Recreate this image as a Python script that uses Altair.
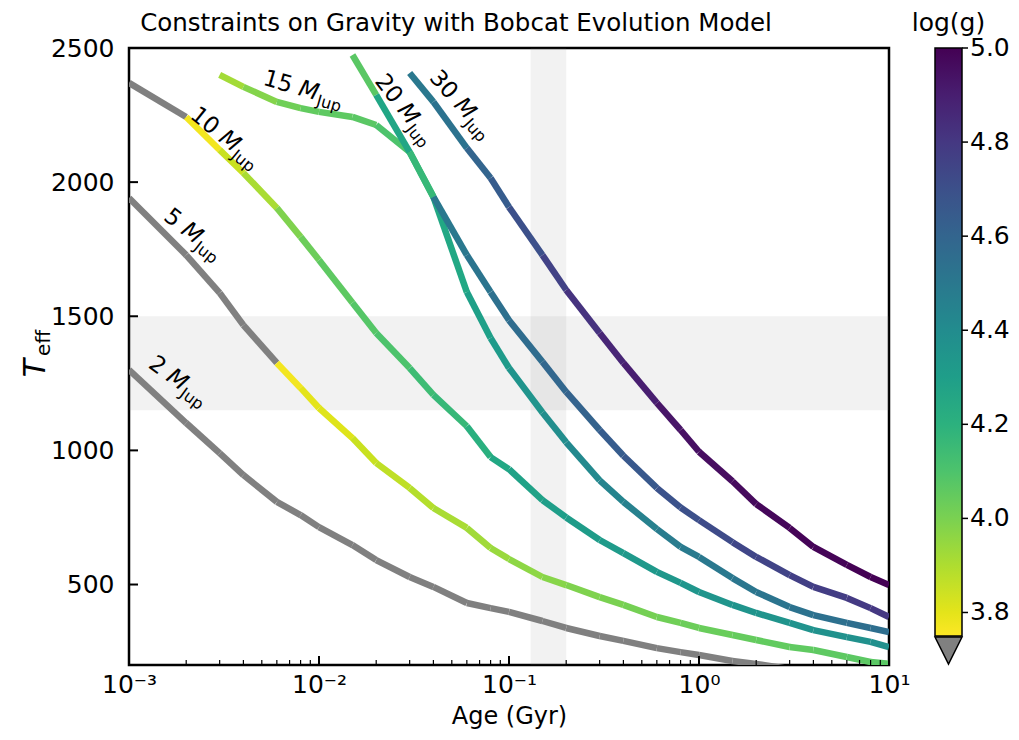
import altair as alt
import pandas as pd

FONT = "DejaVu Sans"

# ---- evolution tracks (Age in Gyr, Teff in K, log g) ----
AGE_2 = [0.001, 0.002, 0.003, 0.004, 0.006, 0.008, 0.01, 0.015, 0.02, 0.03, 0.04, 0.06, 0.08, 0.1,
         0.15, 0.2, 0.3, 0.4, 0.6, 0.8, 1.0, 1.5, 2.0, 3.0]
TEFF_2 = [1300, 1102, 990, 908, 808, 759, 714, 647, 591, 528, 491, 431, 412, 398,
          364, 338, 308, 290, 263, 248, 237, 215, 204, 185]
LOGG_2 = [3.35, 3.42, 3.46, 3.49, 3.52, 3.54, 3.55, 3.57, 3.58, 3.60, 3.61, 3.62, 3.63, 3.64,
          3.65, 3.66, 3.67, 3.68, 3.69, 3.69, 3.70, 3.70, 3.71, 3.71]

AGE_5 = [0.001, 0.002, 0.003, 0.004, 0.006, 0.008, 0.01, 0.015, 0.02, 0.03, 0.04, 0.06, 0.08, 0.1,
         0.15, 0.2, 0.3, 0.4, 0.6, 0.8, 1.0, 1.5, 2.0, 3.0, 4.0, 6.0, 8.0, 10.0]
TEFF_5 = [1941, 1728, 1587, 1467, 1326, 1233, 1158, 1046, 953, 860, 785, 711, 636, 595,
          528, 498, 453, 424, 379, 357, 338, 312, 293, 267, 256, 230, 211, 205]
LOGG_5 = [3.55, 3.62, 3.67, 3.71, 3.77, 3.80, 3.81, 3.85, 3.87, 3.89, 3.91, 3.925, 3.94, 3.96,
          3.975, 3.99, 4.00, 4.01, 4.02, 4.03, 4.035, 4.045, 4.05, 4.055, 4.06, 4.065, 4.07, 4.07]

AGE_10 = [0.001, 0.002, 0.003, 0.004, 0.006, 0.008, 0.01, 0.015, 0.02, 0.03, 0.04, 0.06, 0.08, 0.1,
          0.15, 0.2, 0.3, 0.4, 0.6, 0.8, 1.0, 1.5, 2.0, 3.0, 4.0, 6.0, 8.0, 10.0]
TEFF_10 = [2370, 2243, 2120, 2034, 1904, 1796, 1710, 1550, 1438, 1307, 1207, 1090, 975, 930,
           815, 750, 666, 617, 547, 506, 472, 424, 394, 357, 330, 304, 286, 267]
LOGG_10 = [3.70, 3.77, 3.85, 3.91, 3.99, 4.03, 4.06, 4.08, 4.10, 4.14, 4.16, 4.21, 4.25, 4.28,
           4.30, 4.31, 4.32, 4.33, 4.34, 4.345, 4.35, 4.355, 4.36, 4.365, 4.37, 4.375, 4.38, 4.38]

AGE_15 = [0.003, 0.004, 0.006, 0.008, 0.01, 0.015, 0.02, 0.03, 0.04, 0.06, 0.08, 0.1,
          0.15, 0.2, 0.3, 0.4, 0.6, 0.8, 1.0, 1.5, 2.0, 3.0, 4.0, 6.0, 8.0, 10.0]
TEFF_15 = [2400, 2355, 2299, 2276, 2262, 2243, 2213, 2112, 1945, 1590, 1419, 1307,
           1141, 1030, 888, 808, 707, 640, 603, 524, 472, 416, 386, 357, 338, 323]
LOGG_15 = [3.92, 3.98, 4.02, 4.05, 4.06, 4.07, 4.10, 4.15, 4.25, 4.29, 4.32, 4.36,
           4.39, 4.41, 4.44, 4.46, 4.48, 4.49, 4.50, 4.51, 4.52, 4.53, 4.54, 4.55, 4.55, 4.56]

AGE_20 = [0.015, 0.02, 0.03, 0.04, 0.06, 0.08, 0.1, 0.15, 0.2, 0.3, 0.4, 0.6, 0.8, 1.0,
          1.5, 2.0, 3.0, 4.0, 6.0, 8.0, 10.0]
TEFF_20 = [2474, 2325, 2112, 1945, 1728, 1590, 1485, 1330, 1218, 1076, 980, 860, 787, 740,
           658, 603, 535, 491, 450, 412, 379]
LOGG_20 = [4.07, 4.26, 4.16, 4.50, 4.52, 4.54, 4.56, 4.59, 4.61, 4.64, 4.66, 4.69, 4.70, 4.72,
           4.74, 4.75, 4.77, 4.78, 4.79, 4.80, 4.80]

AGE_30 = [0.03, 0.04, 0.06, 0.08, 0.1, 0.15, 0.2, 0.3, 0.4, 0.6, 0.8, 1.0,
          1.5, 2.0, 3.0, 4.0, 6.0, 8.0, 10.0]
TEFF_30 = [2407, 2299, 2127, 2015, 1907, 1728, 1598, 1438, 1326, 1177, 1076, 995,
           885, 800, 711, 640, 573, 528, 498]
LOGG_30 = [4.50, 4.53, 4.60, 4.64, 4.70, 4.76, 4.82, 4.87, 4.90, 4.93, 4.95, 4.96,
           4.97, 4.98, 4.99, 4.99, 5.00, 5.00, 5.00]

TRACKS = [("2", AGE_2, TEFF_2, LOGG_2), ("5", AGE_5, TEFF_5, LOGG_5),
          ("10", AGE_10, TEFF_10, LOGG_10), ("15", AGE_15, TEFF_15, LOGG_15),
          ("20", AGE_20, TEFF_20, LOGG_20), ("30", AGE_30, TEFF_30, LOGG_30)]

# ---- track labels ----
LABEL_MASS = ["2", "5", "10", "15", "20", "30"]
LABEL_AGE = [0.001625, 0.00195, 0.00308, 0.00786, 0.02735, 0.05395]
LABEL_TEFF = [1285, 1833, 2176, 2351, 2284, 2302]
LABEL_ANGLE = [36, 38, 39, 16, 52, 48]

# ---- shaded constraint bands ----
AGE_BAND = [0.13, 0.2]
TEFF_BAND = [1150, 1500]

# ---- axes ----
X_MAJOR = [0.001, 0.01, 0.1, 1, 10]
X_LABELS = ["10⁻³", "10⁻²", "10⁻¹", "10⁰", "10¹"]
X_MINOR = [m * d for d in [0.001, 0.01, 0.1, 1] for m in range(2, 10)]
Y_TICKS = [500, 1000, 1500, 2000, 2500]
CBAR_TICKS = [3.8, 4.0, 4.2, 4.4, 4.6, 4.8, 5.0]
CBAR_DOMAIN = [3.75, 5.0]

TITLE = "Constraints on Gravity with Bobcat Evolution Model"

rows = []
for name, ages, teffs, loggs in TRACKS:
    for i in range(len(ages) - 1):
        for j in (i, i + 1):
            rows.append({"track": name, "seg": f"{name}-{i}", "age": ages[j],
                         "T": teffs[j], "logg": loggs[i]})
seg_df = pd.DataFrame(rows)
lab_df = pd.DataFrame({"mass": LABEL_MASS, "age": LABEL_AGE, "T": LABEL_TEFF, "angle": LABEL_ANGLE})

xscale = alt.Scale(type="log", domain=[0.001, 10], nice=False)
yscale = alt.Scale(domain=[200, 2500], nice=False, zero=False)
cbar_scale = alt.Scale(domain=CBAR_DOMAIN, range=[588, 0], nice=False, zero=False)

label_expr = " : ".join(
    f"datum.value < {v * 3:g} ? '{t}'" for v, t in zip(X_MAJOR[:-1], X_LABELS[:-1])
) + f" : '{X_LABELS[-1]}'"

x_axis = alt.Axis(values=X_MAJOR, labelExpr=label_expr, ticks=False, tickSize=0, domain=False,
                  grid=False, labelFontSize=25, labelFont=FONT, labelColor="black",
                  labelPadding=7, labelFlush=False, labelOverlap=False,
                  title="Age (Gyr)", titleFontSize=24, titleFont=FONT,
                  titleFontWeight="normal", titleColor="black", titlePadding=7)
y_axis = alt.Axis(values=Y_TICKS, format="d", ticks=False, tickSize=0, domain=False, grid=False,
                  labelFontSize=25, labelFont=FONT, labelColor="black", labelPadding=15,
                  title="")

vband = alt.Chart(pd.DataFrame({"lo": [AGE_BAND[0]], "hi": [AGE_BAND[1]]})).mark_rect(
    color="gray", opacity=0.1).encode(
    x=alt.X("lo:Q", scale=xscale, axis=x_axis), x2="hi:Q")
hband = alt.Chart(pd.DataFrame({"lo": [TEFF_BAND[0]], "hi": [TEFF_BAND[1]]})).mark_rect(
    color="gray", opacity=0.1).encode(
    y=alt.Y("lo:Q", scale=yscale, axis=None), y2="hi:Q")

lines = alt.Chart(seg_df).mark_line(strokeWidth=6.5, strokeCap="butt", clip=True).encode(
    x=alt.X("age:Q", scale=xscale, axis=x_axis),
    y=alt.Y("T:Q", scale=yscale, axis=y_axis),
    detail="seg:N",
    color=alt.condition(
        "datum.logg < 3.75",
        alt.value("#808080"),
        alt.Color("logg:Q",
                  scale=alt.Scale(scheme="viridis", reverse=True, domain=CBAR_DOMAIN,
                                  nice=False, zero=False, clamp=True),
                  legend=alt.Legend(orient="none", legendX=806, legendY=0, direction="vertical",
                                    gradientLength=588, gradientThickness=27,
                                    gradientStrokeColor="black", gradientStrokeWidth=1.5,
                                    values=CBAR_TICKS, labelExpr="''", title=""))
    ),
)

enc_lab = dict(
    x=alt.X("age:Q", scale=xscale, axis=x_axis),
    y=alt.Y("T:Q", scale=yscale, axis=None),
    angle=alt.Angle("angle:Q", scale=None),
)
lab_num = alt.Chart(lab_df).mark_text(align="right", baseline="middle", dx=-7.3, fontSize=23,
                                      font=FONT, color="black").encode(text="mass:N", **enc_lab)
lab_m = alt.Chart(lab_df).mark_text(align="left", baseline="middle", fontSize=23, font=FONT,
                                    fontStyle="italic", color="black").encode(
    text=alt.value("M"), **enc_lab)
lab_sub = alt.Chart(lab_df).mark_text(align="left", baseline="middle", dx=20.5, dy=7,
                                      fontSize=16, font=FONT, color="black").encode(
    text=alt.value("Jup"), **enc_lab)

ytick = alt.Chart(pd.DataFrame({"v": Y_TICKS})).mark_rule(color="black", strokeWidth=2).encode(
    y=alt.Y("v:Q", scale=yscale, axis=None), x=alt.value(0), x2=alt.value(9))
xmaj = alt.Chart(pd.DataFrame({"v": X_MAJOR})).mark_rule(color="black", strokeWidth=2).encode(
    x=alt.X("v:Q", scale=xscale, axis=x_axis), y=alt.value(617), y2=alt.value(608))
xmin = alt.Chart(pd.DataFrame({"v": X_MINOR})).mark_rule(color="black", strokeWidth=1.2).encode(
    x=alt.X("v:Q", scale=xscale, axis=x_axis), y=alt.value(617), y2=alt.value(612))

# colorbar ticks and labels on their own (independent) scale matching the gradient
cb_df = pd.DataFrame({"v": CBAR_TICKS})
cb_ticks = alt.Chart(cb_df).mark_rule(color="black", strokeWidth=1.5).encode(
    y=alt.Y("v:Q", scale=cbar_scale, axis=None), x=alt.value(833), x2=alt.value(839))
cb_labels = alt.Chart(cb_df).mark_text(align="left", baseline="middle", fontSize=25, font=FONT,
                                       color="black").encode(
    y=alt.Y("v:Q", scale=cbar_scale, axis=None), x=alt.value(841),
    text=alt.Text("v:Q", format=".1f"))

one = alt.Data(values=[{}])
title_txt = alt.Chart(one).mark_text(text=TITLE, fontSize=24.5, font=FONT, align="center",
                                     baseline="alphabetic", color="black").encode(
    x=alt.value(327), y=alt.value(-17))
ytitle_T = alt.Chart(one).mark_text(text="T", fontSize=30, font=FONT, fontStyle="italic",
                                    angle=270, align="center", baseline="alphabetic",
                                    color="black").encode(x=alt.value(-84), y=alt.value(320))
ytitle_sub = alt.Chart(one).mark_text(text="eff", fontSize=20, font=FONT, angle=270,
                                      align="center", baseline="alphabetic",
                                      color="black").encode(x=alt.value(-79), y=alt.value(295))
cbar_title = alt.Chart(one).mark_text(text="log(g)", fontSize=25, font=FONT, align="center",
                                      baseline="alphabetic", color="black").encode(
    x=alt.value(819.5), y=alt.value(-17))
cbar_ext = alt.Chart(one).mark_point(shape="M-1,-1L1,-1L0,1Z", filled=True, fill="#808080",
                                     stroke="black", strokeWidth=1.5, size=729,
                                     opacity=1).encode(x=alt.value(819.5), y=alt.value(602.5))

chart = alt.layer(
    vband, hband, lines, lab_num, lab_m, lab_sub, ytick, xmaj, xmin, cb_ticks, cb_labels,
    title_txt, ytitle_T, ytitle_sub, cbar_title, cbar_ext,
).resolve_scale(y="independent").properties(
    width=760, height=617,
    autosize=alt.AutoSizeParams(type="none"),
    padding={"left": 121, "top": 40, "right": 122, "bottom": 67},
    background="white",
).configure_view(stroke="black", strokeWidth=2.5)

chart.save("out.html", embed_options={"renderer": "svg", "actions": False})
